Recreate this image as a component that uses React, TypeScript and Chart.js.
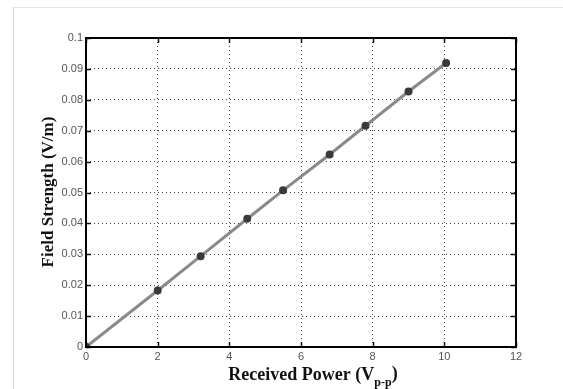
import React, { useEffect, useRef } from "react";
import { Chart, registerables } from "chart.js";

Chart.register(...registerables);

const receivedPower = [0, 2, 3.2, 4.5, 5.5, 6.8, 7.8, 9.0, 10.05];
const fieldStrength = [0, 0.0183, 0.0294, 0.0415, 0.0507, 0.0623, 0.0716, 0.0827, 0.0919];
const xTickLabels = ["0", "2", "4", "6", "8", "10", "12"];
const yTickLabels = ["0", "0.01", "0.02", "0.03", "0.04", "0.05", "0.06", "0.07", "0.08", "0.09", "0.1"];
const xTitle = "Received Power (V";
const xTitleSub = "p-p";
const yTitle = "Field Strength (V/m)";

const TITLE_FONT = "'Liberation Serif'";

const boxPlugin = {
  id: "matlabBox",
  afterDraw(chart: any) {
    const { ctx, chartArea: a, scales } = chart;
    const xs = scales.x;
    const ys = scales.y;
    ctx.save();
    // inward ticks
    ctx.strokeStyle = "#111";
    ctx.lineWidth = 1.5;
    const tl = 5;
    xs.ticks.forEach((t: any) => {
      const px = Math.round(xs.getPixelForValue(t.value)) + 0.5;
      ctx.beginPath();
      ctx.moveTo(px, a.bottom);
      ctx.lineTo(px, a.bottom - tl);
      ctx.moveTo(px, a.top);
      ctx.lineTo(px, a.top + tl);
      ctx.stroke();
    });
    ys.ticks.forEach((t: any) => {
      const py = Math.round(ys.getPixelForValue(t.value)) + 0.5;
      ctx.beginPath();
      ctx.moveTo(a.left, py);
      ctx.lineTo(a.left + tl, py);
      ctx.moveTo(a.right, py);
      ctx.lineTo(a.right - tl, py);
      ctx.stroke();
    });
    // box
    ctx.strokeStyle = "#000";
    ctx.lineWidth = 2;
    ctx.strokeRect(a.left, a.top, a.right - a.left, a.bottom - a.top);

    // x title with subscript
    ctx.fillStyle = "#111";
    ctx.textBaseline = "alphabetic";
    const big = `bold 18px ${TITLE_FONT}`;
    const small = `bold 12px ${TITLE_FONT}`;
    ctx.font = big;
    const mainW = ctx.measureText(xTitle).width;
    ctx.font = small;
    const subW = ctx.measureText(xTitleSub).width;
    ctx.font = big;
    const closeW = ctx.measureText(")").width;
    const total = mainW + subW + closeW;
    const cx = 313;
    const x0 = cx - total / 2;
    const base = 380;
    ctx.textAlign = "left";
    ctx.fillText(xTitle, x0, base);
    ctx.font = small;
    ctx.fillText(xTitleSub, x0 + mainW, base + 6);
    ctx.font = big;
    ctx.fillText(")", x0 + mainW + subW, base - 1);

    // y title
    ctx.save();
    ctx.translate(53, 192);
    ctx.rotate(-Math.PI / 2);
    ctx.textAlign = "center";
    ctx.font = `bold 17px ${TITLE_FONT}`;
    ctx.fillText(yTitle, 0, 0);
    ctx.restore();
    ctx.restore();
  },
};

export default function App() {
  const ref = useRef<HTMLCanvasElement>(null);
  useEffect(() => {
    if (!ref.current) return;
    const chart = new Chart(ref.current, {
      type: "scatter",
      data: {
        datasets: [
          {
            data: receivedPower.map((x, i) => ({ x, y: fieldStrength[i] })),
            showLine: true,
            borderColor: "#8a8a8a",
            borderWidth: 3,
            pointRadius: 4,
            pointBackgroundColor: "#3a3a3a",
            pointBorderColor: "#3a3a3a",
            pointBorderWidth: 0,
          },
        ],
      },
      options: {
        animation: false,
        responsive: false,
        layout: { padding: { top: 38, right: 47, left: 0, bottom: 0 } },
        plugins: { legend: { display: false }, tooltip: { enabled: false } },
        scales: {
          x: {
            type: "linear",
            min: 0,
            max: 12,
            ticks: {
              stepSize: 2,
              padding: 3,
              color: "#555",
              font: { family: "'Liberation Sans'", size: 11 },
              callback: (_v: any, i: number) => xTickLabels[i],
            },
            grid: { color: "#444", lineWidth: 1, drawTicks: false },
            border: { display: false, dash: [1, 3] },
            afterFit: (s: any) => {
              s.height = 42;
            },
          },
          y: {
            type: "linear",
            min: 0,
            max: 0.1,
            ticks: {
              stepSize: 0.01,
              padding: 3,
              color: "#555",
              font: { family: "'Liberation Sans'", size: 11 },
              callback: (_v: any, i: number) => yTickLabels[i],
            },
            grid: { color: "#444", lineWidth: 1, drawTicks: false },
            border: { display: false, dash: [1, 3] },
            afterFit: (s: any) => {
              s.width = 86;
            },
          },
        },
      },
      plugins: [boxPlugin],
    });
    return () => chart.destroy();
  }, []);
  return (
    <div style={{ position: "fixed", left: 0, top: 0, width: 563, height: 389, background: "#fff" }}>
      <div
        style={{
          position: "absolute",
          left: 13,
          top: 7,
          right: 0,
          bottom: 0,
          borderLeft: "1px solid #d4d4d4",
          borderTop: "1px solid #e4e4e4",
        }}
      />
      <canvas ref={ref} width={563} height={389} style={{ position: "absolute", left: 0, top: 0 }} />
    </div>
  );
}
